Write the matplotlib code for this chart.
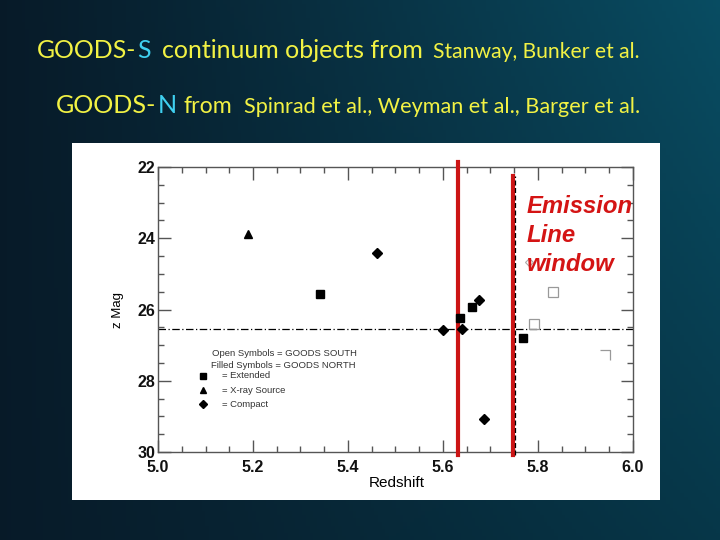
import numpy as np
import matplotlib
matplotlib.use("Agg")
import matplotlib.pyplot as plt
from matplotlib.patches import Rectangle
from matplotlib.path import Path

# ---------------- data ----------------
north_ext_z = [5.341, 5.636, 5.661, 5.769]
north_ext_mag = [25.57, 26.25, 25.94, 26.80]
north_xray_z = [5.189]
north_xray_mag = [23.88]
north_comp_z = [5.461, 5.601, 5.641, 5.676, 5.686]
north_comp_mag = [24.42, 26.58, 26.55, 25.74, 29.08]
south_ext_z = [5.792, 5.832]
south_ext_mag = [26.41, 25.52]
south_ext_partial_z = [5.941]
south_ext_partial_mag = [27.29]
south_comp_z = [5.781]
south_comp_mag = [24.66]
mag_limit = 26.56
window_z = [5.632, 5.748]
window_edge_z = 5.752

x_ticks = [5.0, 5.2, 5.4, 5.6, 5.8, 6.0]
x_tick_labels = ["5.0", "5.2", "5.4", "5.6", "5.8", "6.0"]
y_ticks = [22, 24, 26, 28, 30]
y_tick_labels = ["22", "24", "26", "28", "30"]

# (text, colour, start px or None = right after previous, end px or None = same size)
title1 = [("GOODS-", "yellow", 37, 136), ("S", "cyan", None, None),
          ("continuum objects from", "yellow", 162, 425),
          ("Stanway, Bunker et al.", "yellow", 433, 639)]
title2 = [("GOODS-", "yellow", 56, 156), ("N", "cyan", None, None),
          ("from", "yellow", 183, 232),
          ("Spinrad et al., Weyman et al., Barger et al.", "yellow", 244, 638)]

W, H = 720, 540
fig = plt.figure(figsize=(7.2, 5.4), dpi=100)

# ---------------- background gradient ----------------
bg = fig.add_axes([0, 0, 1, 1], zorder=-10)
xx, yy = np.meshgrid(np.linspace(0, 1, 200), np.linspace(0, 1, 150))
left = np.array([0.030, 0.105, 0.160])
right_top = np.array([0.035, 0.300, 0.385])
right_bot = np.array([0.025, 0.215, 0.285])
t = xx[..., None] ** 1.1
right = right_top * (1 - yy[..., None]) + right_bot * yy[..., None]
img = left * (1 - t) + right * t
bg.imshow(img, aspect="auto", extent=[0, 1, 0, 1], origin="upper")
bg.set_axis_off()

# white panel
fig.patches.append(Rectangle((72 / W, 1 - 500 / H), (660 - 72) / W, (500 - 143) / H,
                             transform=fig.transFigure, facecolor="white",
                             edgecolor="none", zorder=-5))

# ---------------- titles ----------------
renderer = fig.canvas.get_renderer()
colors = {"yellow": "#f2f244", "cyan": "#3fd0f0"}


def draw_pieces(pieces, baseline_px):
    prev_size = 16
    prev_end = 0
    for txt, col, x0, x1 in pieces:
        start = prev_end + 1 if x0 is None else x0
        tt = fig.text(start / W, 1 - baseline_px / H, txt, color=colors[col],
                      fontsize=10, family="Lato", va="baseline", ha="left")
        if x1 is None:
            tt.set_fontsize(prev_size)
        else:
            w = tt.get_window_extent(renderer).width
            prev_size = 10 * (x1 - start) / w
            tt.set_fontsize(prev_size)
        prev_end = tt.get_window_extent(renderer).x1


draw_pieces(title1, 58)
draw_pieces(title2, 113)

# ---------------- main axes ----------------
ax = fig.add_axes([158 / W, 1 - 452 / H, (633 - 158) / W, (452 - 167) / H])
ax.set_facecolor("white")
ax.set_xlim(5.0, 6.0)
ax.set_ylim(30, 22)
ax.set_xticks(x_ticks)
ax.set_xticklabels(x_tick_labels)
ax.set_yticks(y_ticks)
ax.set_yticklabels(y_tick_labels)
ax.set_xticks(np.arange(5.0, 6.001, 0.05), minor=True)
ax.set_yticks(np.arange(22, 30.01, 0.5), minor=True)
ax.tick_params(which="both", direction="in", top=True, right=True,
               color="#555555", width=1)
ax.tick_params(which="major", length=9, labelsize=11.5)
ax.tick_params(axis="x", which="major", pad=6)
ax.tick_params(axis="y", which="major", pad=2)
ax.tick_params(which="minor", length=4)
for lab in ax.get_xticklabels() + ax.get_yticklabels():
    lab.set_fontweight("bold")
    lab.set_family("Liberation Sans")
    lab.set_color("#111111")
for sp in ax.spines.values():
    sp.set_color("#555555")
    sp.set_linewidth(1)

ax.set_xlabel("Redshift", fontsize=11, family="Liberation Sans")
ax.set_ylabel("z Mag", fontsize=9.5, family="Liberation Sans")
ax.xaxis.set_label_coords(0.503, -0.085)
ax.yaxis.set_label_coords(-0.072, 0.5)

# magnitude limit line
ax.axhline(mag_limit, color="black", lw=0.9, ls=(0, (6, 2, 1, 2)), zorder=2)

# emission line window
ax.axvline(window_z[0], ymin=-0.012, ymax=1.018, color="#cc1515", lw=3, clip_on=False, zorder=3)
ax.axvline(window_z[1], ymin=-0.012, ymax=0.967, color="#cc1515", lw=3, clip_on=False, zorder=3)
ax.axvline(window_edge_z, ymin=-0.012, ymax=0.967, color="black", lw=0.9,
           ls=(0, (4, 2)), clip_on=False, zorder=4)

# points
ms = 5.5
ax.plot(north_ext_z, north_ext_mag, "s", color="black", ms=ms, ls="none", zorder=5)
ax.plot(north_xray_z, north_xray_mag, "^", color="black", ms=ms + 0.5, ls="none", zorder=5)
ax.plot(north_comp_z, north_comp_mag, "D", color="black", ms=ms - 0.5, ls="none", zorder=5)
ax.plot(south_ext_z, south_ext_mag, "s", mfc="none", mec="#999999", mew=0.9,
        ms=ms + 1, ls="none", zorder=5)
corner = Path([(-1, 1), (1, 1), (1, -1)], [Path.MOVETO, Path.LINETO, Path.LINETO])
ax.plot(south_ext_partial_z, south_ext_partial_mag, marker=corner, mfc="none",
        mec="#999999", mew=0.9, ms=ms + 1, ls="none", zorder=5)
ax.plot(south_comp_z, south_comp_mag, "D", mfc="none", mec="#aaaaaa", mew=0.8,
        ms=ms - 1.5, ls="none", zorder=5)

# emission line label
ax.text(0.777, 0.902, "Emission\nLine\nwindow", transform=ax.transAxes,
        color="#d41414", fontsize=17.2, fontweight="bold", fontstyle="italic",
        family="Liberation Sans", va="top", ha="left", linespacing=1.33, zorder=6)

# in-plot legend
leg_col = "#333333"
ax.text(0.1137, 0.344, "Open Symbols = GOODS SOUTH", transform=ax.transAxes,
        fontsize=6.8, color=leg_col, va="center", family="Liberation Sans")
ax.text(0.1116, 0.302, "Filled Symbols = GOODS NORTH", transform=ax.transAxes,
        fontsize=6.8, color=leg_col, va="center", family="Liberation Sans")
leg_items = [("s", "= Extended", 0.267), ("^", "= X-ray Source", 0.2175),
             ("D", "= Compact", 0.168)]
for mk, lab, yy_ in leg_items:
    ax.plot([0.0947], [yy_], marker=mk, color="black", ms=5 if mk != "D" else 4,
            transform=ax.transAxes, ls="none", clip_on=False)
    ax.text(0.135, yy_, lab, transform=ax.transAxes, fontsize=6.8, color=leg_col,
            va="center", family="Liberation Sans")

fig.savefig("out.png", dpi=100)
